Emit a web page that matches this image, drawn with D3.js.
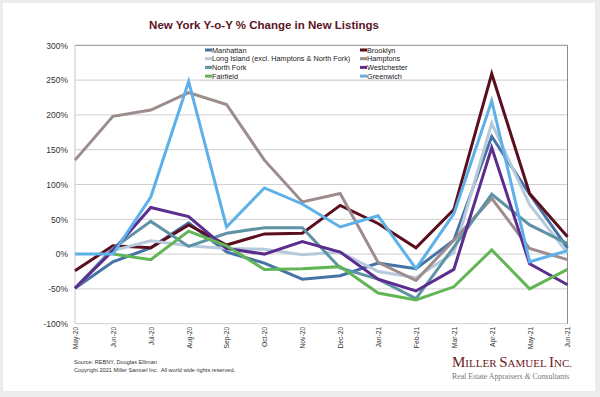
<!DOCTYPE html>
<html>
<head>
<meta charset="utf-8">
<script src="https://cdn.jsdelivr.net/npm/d3@7"></script>
<style>
  html, body { margin: 0; padding: 0; background: #ececec; }
  svg { display: block; font-family: "Liberation Sans", Arial, sans-serif; }
</style>
</head>
<body>
<div id="chart"></div>
<script>
// data
var months = ['May-20','Jun-20','Jul-20','Aug-20','Sep-20','Oct-20','Nov-20','Dec-20','Jan-21','Feb-21','Mar-21','Apr-21','May-21','Jun-21'];
var yTicks = [-100, -50, 0, 50, 100, 150, 200, 250, 300];

var manhattan   = [-49, -11,   9,  45,   3, -13, -36, -31, -13, -21,  20, 169,  86,   9];
var brooklyn    = [-24,  12,   9,  42,  13,  29,  30,  70,  44,   9,  64, 259,  87,  25];
var longIsland  = [-49,   5,  19,  12,   8,   7,  -1,   3, -25, -34,   2, 188,  71,   2];
var hamptons    = [135, 198, 207, 232, 215, 135,  75,  87, -12, -38,  20,  80,   8,  -8];
var northFork   = [-49,   8,  47,  11,  30,  38,  38, -20, -36, -64,  10,  86,  42,  15];
var westchester = [-49,   5,  67,  54,   8,   0,  18,   3, -36, -53, -22, 153, -14, -44];
var fairfield   = [null,  0,  -8,  33,  12, -22, -21, -18, -56, -66, -47,   6, -50, -22];
var greenwich   = [  0,   0,  82, 248,  39,  95,  72,  39,  55, -21,  58, 220, -11,   5];

var seriesNames  = ['Manhattan','Brooklyn','Long Island (excl. Hamptons & North Fork)','Hamptons','North Fork','Westchester','Fairfield','Greenwich'];
var seriesValues = [manhattan, brooklyn, longIsland, hamptons, northFork, westchester, fairfield, greenwich];
var seriesColors = ['#4673a6','#5a0f1f','#b7cadd','#9c8c8c','#5e93a6','#5b2d8e','#62b554','#5eb0e8'];
//end data

var W = 600, H = 397;
var svg = d3.select('#chart').append('svg')
    .attr('width', W)
    .attr('height', H);

// card
svg.append('rect')
    .attr('x', 3).attr('y', 3)
    .attr('width', 592).attr('height', 388)
    .attr('fill', '#fff');

var plot = {left: 75, right: 567.5, top: 45.3, bottom: 323.7};

var x = d3.scalePoint()
    .domain(months)
    .range([plot.left, plot.right]);

var y = d3.scaleLinear()
    .domain([-100, 300])
    .range([plot.bottom, plot.top]);

// title
svg.append('text')
    .attr('x', 264)
    .attr('y', 29)
    .attr('text-anchor', 'middle')
    .attr('font-size', 11.5)
    .attr('font-weight', 'bold')
    .attr('fill', '#5a1424')
    .text('New York Y-o-Y % Change in New Listings');

// gridlines
svg.append('g').selectAll('line')
    .data(yTicks)
    .enter().append('line')
    .attr('x1', plot.left).attr('x2', plot.right)
    .attr('y1', function(d){ return y(d); })
    .attr('y2', function(d){ return y(d); })
    .attr('stroke', function(d){ return d === 300 ? '#8a8a8a' : '#cfcfcf'; })
    .attr('stroke-width', 1);

// frame
svg.append('line')
    .attr('x1', plot.left).attr('x2', plot.left)
    .attr('y1', plot.top).attr('y2', plot.bottom)
    .attr('stroke', '#c8c8c8');
svg.append('line')
    .attr('x1', plot.right).attr('x2', plot.right)
    .attr('y1', plot.top).attr('y2', plot.bottom)
    .attr('stroke', '#8a8a8a');

// y axis
var yAxis = svg.append('g')
    .attr('transform', 'translate(' + plot.left + ',0)')
    .call(d3.axisLeft(y).tickValues(yTicks).tickSize(0).tickPadding(7)
        .tickFormat(function(d){ return d + '%'; }));
yAxis.select('.domain').remove();
yAxis.selectAll('text')
    .attr('font-size', 8.5)
    .attr('font-family', '"Liberation Sans", Arial, sans-serif')
    .attr('fill', '#333');

// x axis (rotated labels)
var xAxis = svg.append('g')
    .attr('transform', 'translate(0,' + plot.bottom + ')')
    .call(d3.axisBottom(x).tickSize(0));
xAxis.select('.domain').remove();
xAxis.selectAll('text')
    .attr('font-size', 6.8)
    .attr('font-family', '"Liberation Sans", Arial, sans-serif')
    .attr('fill', '#333')
    .attr('text-anchor', 'end')
    .attr('dy', null)
    .attr('transform', 'translate(2.4,3) rotate(-90)')
    .attr('x', 0)
    .attr('y', 0);

// lines
var lineFunc = d3.line()
    .defined(function(d){ return d.v !== null; })
    .x(function(d){ return x(d.m); })
    .y(function(d){ return y(d.v); });

var gLines = svg.append('g').attr('class', 'lines');
seriesValues.forEach(function(vals, i){
    var pts = vals.map(function(v, j){ return {m: months[j], v: v}; });
    gLines.append('path')
        .datum(pts)
        .attr('d', lineFunc)
        .attr('fill', 'none')
        .attr('stroke', seriesColors[i])
        .attr('stroke-width', 3)
        .attr('stroke-linejoin', 'miter');
});

// legend
var gLegend = svg.append('g').attr('class', 'legend');
gLegend.append('rect')
    .attr('x', 200).attr('y', 46.5)
    .attr('width', 240).attr('height', 33)
    .attr('fill', '#fff');
// redraw the gridline under the legend
gLegend.append('line')
    .attr('x1', 200).attr('x2', 440)
    .attr('y1', y(250)).attr('y2', y(250))
    .attr('stroke', '#cfcfcf');

var legendItems = gLegend.selectAll('g.item')
    .data(seriesNames)
    .enter().append('g')
    .attr('class', 'item')
    .attr('transform', function(d, i){
        var col = i % 2, row = Math.floor(i / 2);
        return 'translate(' + (col === 0 ? 205 : 360) + ',' + (50 + row * 8.7) + ')';
    });
legendItems.append('rect')
    .attr('x', 0).attr('y', -1.5)
    .attr('width', 7).attr('height', 3)
    .attr('fill', function(d, i){ return seriesColors[i]; });
legendItems.append('text')
    .attr('x', 7)
    .attr('y', 2.7)
    .attr('font-size', 7.3)
    .attr('fill', '#222')
    .text(function(d){ return d; });

// footer
svg.append('text')
    .attr('x', 74).attr('y', 364)
    .attr('font-size', 5.6)
    .attr('fill', '#333')
    .text('Source: REBNY, Douglas Elliman');
svg.append('text')
    .attr('x', 74).attr('y', 372)
    .attr('font-size', 5.6)
    .attr('fill', '#333')
    .attr('xml:space', 'preserve')
    .text('Copyright 2021 Miller Samuel Inc.  All world wide rights reserved.');

// logo
var logo = svg.append('text')
    .attr('x', 452).attr('y', 367)
    .attr('font-family', '"Liberation Serif", "Times New Roman", serif')
    .attr('fill', '#6e1a24');
[['M', 15], ['ILLER ', 11], ['S', 15], ['AMUEL ', 11], ['I', 15], ['NC.', 11]].forEach(function(p){
    logo.append('tspan').attr('font-size', p[1]).text(p[0]);
});
var sub = svg.append('text')
    .attr('x', 452).attr('y', 378.5)
    .attr('font-family', '"Liberation Serif", "Times New Roman", serif')
    .attr('font-size', 7.8)
    .attr('fill', '#777');
sub.append('tspan').text('Real Estate Appraisers ');
sub.append('tspan').attr('font-style', 'italic').text('&');
sub.append('tspan').text(' Consultants');
</script>
</body>
</html>
